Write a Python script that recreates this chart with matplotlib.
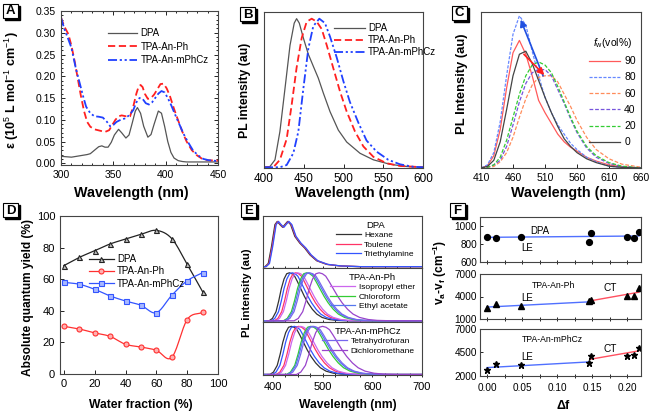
import numpy as np
import matplotlib
matplotlib.use('Agg')
import matplotlib.pyplot as plt
from matplotlib.patches import Rectangle
from matplotlib.ticker import MultipleLocator

plt.rcParams['font.family'] = ['Liberation Sans', 'DejaVu Sans']
plt.rcParams['mathtext.fontset'] = 'custom'
plt.rcParams['mathtext.rm'] = 'Liberation Sans'
plt.rcParams['mathtext.it'] = 'Liberation Sans:italic'
plt.rcParams['mathtext.bf'] = 'Liberation Sans:bold'

# ---------------- data ----------------
# Panel A: absorption
a_dpa_x = [300, 305, 310, 315, 320, 325, 328, 332, 336, 339, 342, 345, 348, 351, 355, 358, 362, 365,
           368, 371, 373, 376, 379, 383, 386, 389, 393, 396, 399, 402, 405, 408, 412, 416, 420, 430, 440, 450]
a_dpa_y = [0.016, 0.015, 0.014, 0.016, 0.018, 0.020, 0.022, 0.030, 0.038, 0.040, 0.037, 0.037, 0.048,
           0.065, 0.078, 0.070, 0.058, 0.065, 0.092, 0.120, 0.128, 0.115, 0.085, 0.060, 0.066, 0.090,
           0.120, 0.115, 0.085, 0.050, 0.025, 0.012, 0.006, 0.004, 0.003, 0.003, 0.003, 0.003]
a_ph_x = [300, 303, 307, 310, 313, 316, 319, 322, 325, 328, 332, 337, 342, 346, 349, 352, 355, 358, 362,
          366, 369, 372, 374, 376, 378, 380, 383, 386, 389, 392, 395, 398, 401, 404, 408, 412, 416, 420,
          425, 430, 435, 440, 450]
a_ph_y = [0.335, 0.315, 0.297, 0.270, 0.235, 0.195, 0.155, 0.120, 0.095, 0.084, 0.078, 0.075, 0.072,
          0.076, 0.088, 0.100, 0.108, 0.110, 0.108, 0.108, 0.130, 0.160, 0.175, 0.180, 0.175, 0.160,
          0.148, 0.150, 0.158, 0.170, 0.182, 0.183, 0.172, 0.155, 0.125, 0.098, 0.072, 0.050, 0.030,
          0.018, 0.010, 0.007, 0.006]
a_cz_x = [300, 303, 307, 310, 314, 318, 321, 324, 328, 332, 336, 340, 344, 347, 350, 353, 357, 361, 365,
          369, 372, 375, 378, 381, 384, 387, 390, 393, 396, 399, 402, 405, 409, 413, 417, 421, 426, 431,
          436, 441, 450]
a_cz_y = [0.335, 0.310, 0.285, 0.265, 0.220, 0.183, 0.155, 0.130, 0.115, 0.108, 0.107, 0.105, 0.095,
          0.085, 0.088, 0.095, 0.100, 0.103, 0.110, 0.122, 0.140, 0.150, 0.148, 0.138, 0.135, 0.140,
          0.150, 0.160, 0.166, 0.163, 0.150, 0.135, 0.112, 0.090, 0.068, 0.050, 0.030, 0.018, 0.010,
          0.007, 0.005]
series_names = ['DPA', 'TPA-An-Ph', 'TPA-An-mPhCz']

# Panel B: PL in solution
b_dpa_x = [400, 407.5, 413.8, 420, 426.4, 432.7, 438, 441, 444.4, 449.5, 455.8, 462, 468.3, 474.6, 483,
           493.5, 504, 520.8, 537.6, 558.5, 579.5, 600]
b_dpa_y = [0, 0.005, 0.05, 0.24, 0.53, 0.82, 0.97, 1.0, 0.97, 0.87, 0.76, 0.68, 0.60, 0.50, 0.375,
           0.25, 0.17, 0.094, 0.05, 0.02, 0.005, 0]
b_ph_x = [400, 411.7, 420, 428.5, 434.8, 441, 447.4, 453.7, 460, 466.3, 472.6, 479, 487, 495.6, 504,
          514.5, 525, 537.6, 554.3, 571, 600]
b_ph_y = [0, 0, 0.05, 0.19, 0.42, 0.67, 0.87, 0.98, 1.0, 0.98, 0.93, 0.82, 0.67, 0.51, 0.375, 0.24,
          0.14, 0.07, 0.027, 0.009, 0]
b_cz_x = [400, 420, 428.5, 436.9, 443.2, 449.5, 455.8, 462, 469.6, 476.7, 483, 491.4, 499.8, 508,
          518.7, 529, 541.7, 556.4, 571, 588, 600]
b_cz_y = [0, 0, 0.015, 0.095, 0.24, 0.53, 0.80, 0.95, 1.0, 0.97, 0.88, 0.74, 0.58, 0.44, 0.30, 0.18,
          0.105, 0.05, 0.02, 0.003, 0]

# Panel C: PL vs water fraction
c_fw = ['90', '80', '60', '40', '20', '0']
c_x = [410, 420, 430, 440, 450, 460, 470, 480, 490, 500, 510, 520, 530, 540, 550, 560, 575, 590, 610,
       630, 660]
c_y90 = [0, 0.015, 0.08, 0.25, 0.52, 0.75, 0.83, 0.74, 0.60, 0.44, 0.36, 0.29, 0.22, 0.17, 0.135,
         0.11, 0.07, 0.045, 0.02, 0.008, 0]
c_y80 = [0, 0.02, 0.10, 0.30, 0.60, 0.87, 0.99, 0.93, 0.76, 0.60, 0.46, 0.36, 0.28, 0.22, 0.16, 0.12,
         0.07, 0.04, 0.012, 0.004, 0]
c_y60 = [0, 0.003, 0.01, 0.04, 0.10, 0.20, 0.33, 0.45, 0.54, 0.59, 0.60, 0.60, 0.56, 0.48, 0.40, 0.31,
         0.20, 0.12, 0.06, 0.025, 0.005]
c_y40 = [0, 0.005, 0.02, 0.05, 0.14, 0.28, 0.43, 0.55, 0.62, 0.64, 0.64, 0.60, 0.51, 0.42, 0.32, 0.23,
         0.13, 0.07, 0.03, 0.01, 0]
c_y20 = [0, 0.005, 0.02, 0.07, 0.18, 0.33, 0.48, 0.60, 0.67, 0.69, 0.67, 0.62, 0.53, 0.43, 0.33, 0.24,
         0.14, 0.08, 0.035, 0.012, 0]
c_y0 = [0, 0.01, 0.05, 0.17, 0.38, 0.60, 0.74, 0.76, 0.68, 0.57, 0.46, 0.36, 0.27, 0.19, 0.14, 0.10,
        0.06, 0.035, 0.012, 0.004, 0]
c_xticks = [410, 460, 510, 560, 610, 660]
c_arrow_blue = [(507, 0.60), (472, 0.965)]
c_arrow_red = [(477, 0.74), (509, 0.605)]

# Panel D: quantum yield vs water fraction
d_x = [0, 10, 20, 30, 40, 50, 60, 70, 80, 90]
d_dpa = [68.6, 73.8, 78.0, 82.3, 85.4, 88.4, 90.9, 85.7, 69.4, 52.1]
d_ph = [30.2, 28.5, 26.0, 23.8, 18.8, 17.1, 15.0, 10.5, 34.4, 39.0]
d_cz = [58.0, 56.8, 53.6, 49.4, 46.2, 43.5, 38.8, 49.8, 59.0, 64.1]

# Panel E: solvatochromism
e_dpa_x = [380, 384, 390.6, 397, 404, 408.7, 414, 419.5, 424, 429.5, 435.6, 444, 454, 464, 474.5, 488,
           508, 535, 575, 700]
e_dpa_y = [0, 0, 0.07, 0.44, 0.93, 1.0, 0.93, 0.87, 0.93, 1.0, 0.93, 0.67, 0.52, 0.41, 0.26, 0.13,
           0.05, 0.015, 0, 0]
e_dpa_solv = ['Hexane', 'Toulene', 'Triethylamine']
e_dpa_shift = [0, 1.5, 2.5]
e_dpa_colors = ['#333333', '#ff3366', '#3355ff']
e_prof_dx = [-100, -48, -40, -31.5, -25, -19, -12.6, -6.3, 0, 6.3, 12.6, 19, 27, 35.6, 44, 54.5, 65,
             77.6, 94, 111, 140, 300]
e_prof_y = [0, 0, 0.05, 0.19, 0.42, 0.67, 0.87, 0.98, 1.0, 0.98, 0.93, 0.82, 0.67, 0.51, 0.375, 0.24,
            0.14, 0.07, 0.027, 0.009, 0, 0]
e_solvents = ['Hexane', 'Toulene', 'Triethylamine', 'Isopropyl ether', 'Chloroform', 'Ethyl acetate',
              'Tetrahydrofuran', 'Dichloromethane']
e_colors = ['#333333', '#ff3366', '#3355ff', '#cc66ee', '#33cc33', '#5577ee', '#7766ee', '#9944cc']
e_ph_peak = [433, 446, 439, 450, 468, 471, 474, 493]
e_ph_width = [0.85, 0.90, 0.88, 0.92, 0.98, 1.0, 1.0, 1.05]
e_cz_peak = [437, 452, 443, 456, 476, 479, 482, 500]
e_cz_width = [0.90, 0.95, 0.92, 0.97, 1.02, 1.05, 1.05, 1.10]

# Panel F: Lippert-Mataga
f_df = [0.0, 0.013, 0.048, 0.145, 0.148, 0.200, 0.210, 0.217]
f_dpa = [881, 870, 881, 819, 926, 881, 870, 930]
f_ph = [2456, 3030, 2765, 3340, 3560, 4130, 4130, 5100]
f_cz = [2643, 3321, 3143, 3393, 4143, 4143, 4214, 5000]
f_dpa_fit = ([0.0, 0.217], [874, 889])
f_ph_le = ([0.0, 0.148], [2590, 3295])
f_ph_ct = ([0.148, 0.217], [3427, 4574])
f_cz_le = ([0.0, 0.146], [2893, 3500])
f_cz_ct = ([0.148, 0.217], [3786, 4680])

# ---------------- figure ----------------
W, H = 651, 413
fig = plt.figure(figsize=(W / 100, H / 100), dpi=100)


def add_ax(x0, y0, x1, y1):
    ax = fig.add_axes([x0 / W, 1 - y1 / H, (x1 - x0) / W, (y1 - y0) / H])
    for s in ax.spines.values():
        s.set_color('#444444')
        s.set_linewidth(0.8)
    return ax


def ftext(x, y, s, **kw):
    fig.text(x / W, 1 - y / H, s, **kw)


def panel_label(x, y, s, w=15, h=14):
    fig.add_artist(Rectangle(((x + 2) / W, 1 - (y + h + 2) / H), w / W, h / H,
                             transform=fig.transFigure, facecolor='black', edgecolor='black'))
    fig.add_artist(Rectangle((x / W, 1 - (y + h) / H), w / W, h / H,
                             transform=fig.transFigure, facecolor='white', edgecolor='black', lw=0.8))
    ftext(x + w / 2, y + h / 2 + 0.5, s, ha='center', va='center', fontsize=9.5, fontweight='bold')


def smooth(x, y, n=16):
    x = np.asarray(x, float)
    y = np.asarray(y, float)
    xp = np.concatenate([[2 * x[0] - x[1]], x, [2 * x[-1] - x[-2]]])
    yp = np.concatenate([[2 * y[0] - y[1]], y, [2 * y[-1] - y[-2]]])
    t = np.linspace(0, 1, n, endpoint=False)
    ox, oy = [], []
    for i in range(1, len(xp) - 2):
        for arr, out in ((xp, ox), (yp, oy)):
            p0, p1, p2, p3 = arr[i - 1], arr[i], arr[i + 1], arr[i + 2]
            out.extend(0.5 * ((2 * p1) + (-p0 + p2) * t + (2 * p0 - 5 * p1 + 4 * p2 - p3) * t ** 2
                              + (-p0 + 3 * p1 - 3 * p2 + p3) * t ** 3))
    ox.append(x[-1])
    oy.append(y[-1])
    return np.array(ox), np.array(oy)


col_dpa = '#555555'
col_ph = '#ff2020'
col_cz = '#2040ff'
dashdotdot = (0, (5, 1.5, 1.2, 1.5, 1.2, 1.5))

# ---- A ----
axA = add_ax(61, 11, 218, 165)
axA.plot(a_dpa_x, a_dpa_y, color=col_dpa, lw=0.9, label=series_names[0])
axA.plot(a_ph_x, a_ph_y, color=col_ph, lw=1.3, ls=(0, (4, 2)), label=series_names[1])
axA.plot(a_cz_x, a_cz_y, color=col_cz, lw=1.3, ls=dashdotdot, label=series_names[2])
axA.set_xlim(300, 450)
axA.set_ylim(-0.004, 0.35)
axA.xaxis.set_major_locator(MultipleLocator(50))
axA.yaxis.set_major_locator(MultipleLocator(0.05))
axA.yaxis.set_major_formatter(matplotlib.ticker.FormatStrFormatter('%.2f'))
axA.xaxis.set_minor_locator(MultipleLocator(10))
axA.yaxis.set_minor_locator(MultipleLocator(0.01))
axA.tick_params(which='both', direction='in', labelsize=7.5, top=True, right=True, width=0.6)
axA.tick_params(which='major', length=3)
axA.tick_params(which='minor', length=1.5)
axA.legend(loc='upper left', bbox_to_anchor=(0.27, 0.92), frameon=False, fontsize=7,
           handlelength=3.0, handletextpad=0.3, labelspacing=0.35, borderpad=0)
ftext(131, 193, 'Wavelength (nm)', ha='center', va='center', fontsize=10.3, fontweight='bold')
ftext(12, 90, 'ε (10$^5$ L mol$^{-1}$ cm$^{-1}$)', ha='center', va='center', fontsize=9,
      fontweight='bold', rotation=90)
panel_label(3, 4, 'A')

# ---- B ----
axB = add_ax(264, 12, 423, 168)
axB.plot(b_dpa_x, b_dpa_y, color=col_dpa, lw=0.9, label=series_names[0])
axB.plot(b_ph_x, b_ph_y, color=col_ph, lw=1.3, ls=(0, (4, 2)), label=series_names[1])
axB.plot(b_cz_x, b_cz_y, color=col_cz, lw=1.3, ls=dashdotdot, label=series_names[2])
axB.set_xlim(400, 600)
axB.set_ylim(-0.005, 1.045)
axB.xaxis.set_major_locator(MultipleLocator(50))
axB.set_yticks([])
axB.tick_params(axis='x', direction='in', labelsize=8.5, length=3, width=0.6)
axB.legend(loc='upper left', bbox_to_anchor=(0.41, 0.96), frameon=False, fontsize=7,
           handlelength=3.2, handletextpad=0.3, labelspacing=0.2, borderpad=0)
ftext(352, 193, 'Wavelength (nm)', ha='center', va='center', fontsize=10.3, fontweight='bold')
ftext(245, 90, 'PL intensity (au)', ha='center', va='center', fontsize=8.8, fontweight='bold',
      rotation=90)
panel_label(240, 7, 'B')

# ---- C ----
axC = add_ax(481, 12, 641, 168)
c_styles = [('#ff5a5a', '-'), ('#6688ff', (0, (2.5, 1.2))), ('#ff8c5a', (0, (3, 1.5))),
            ('#7755dd', (0, (3, 1.5))), ('#33cc33', (0, (3, 1.5))), ('#444444', '-')]
for lab, yy, (cc, ls) in zip(c_fw, [c_y90, c_y80, c_y60, c_y40, c_y20, c_y0], c_styles):
    axC.plot(c_x, yy, color=cc, ls=ls, lw=0.9, label=lab)
axC.annotate('', xy=c_arrow_blue[1], xytext=c_arrow_blue[0],
             arrowprops=dict(arrowstyle='-|>', color='#2050e0', lw=1.2, mutation_scale=10,
                             shrinkA=0, shrinkB=0))
axC.annotate('', xy=c_arrow_red[1], xytext=c_arrow_red[0],
             arrowprops=dict(arrowstyle='-|>', color='#ff2020', lw=1.2, mutation_scale=10,
                             shrinkA=0, shrinkB=0))
axC.set_xlim(410, 660)
axC.set_ylim(0, 1.015)
axC.set_xticks(c_xticks)
axC.set_yticks([])
axC.tick_params(axis='x', direction='in', labelsize=7.5, length=3, width=0.6)
legC = axC.legend(loc='upper right', bbox_to_anchor=(1.0, 0.88), frameon=False, fontsize=7.5,
                  handlelength=3.0, handletextpad=0.4, labelspacing=0.6, borderpad=0,
                  title='$f_{\\rm w}$(vol%)', title_fontsize=7.5)
ftext(568, 193, 'Wavelength (nm)', ha='center', va='center', fontsize=10.3, fontweight='bold')
ftext(462, 84, 'PL Intensity (au)', ha='center', va='center', fontsize=9.4, fontweight='bold',
      rotation=90)
panel_label(452, 6, 'C')

# ---- D ----
axD = add_ax(60, 216, 218, 374)
for yy, cc, mk, mfc, lab in [(d_dpa, '#222222', '^', '#bbbbbb', series_names[0]),
                             (d_ph, '#ff3030', 'o', '#ffb0b0', series_names[1]),
                             (d_cz, '#3355ff', 's', '#a8b8ff', series_names[2])]:
    sx, sy = smooth(d_x, yy)
    axD.plot(sx, sy, color=cc, lw=0.9)
    axD.plot(d_x, yy, ls='none', marker=mk, ms=3.6, mec=cc, mfc=mfc, mew=0.8)
    axD.plot([], [], color=cc, lw=0.9, marker=mk, ms=3.6, mec=cc, mfc=mfc, mew=0.8, label=lab)
axD.set_xlim(-2.5, 100)
axD.set_ylim(0, 100)
axD.xaxis.set_major_locator(MultipleLocator(20))
axD.yaxis.set_major_locator(MultipleLocator(20))
axD.tick_params(direction='in', labelsize=8, length=3, width=0.6)
axD.legend(loc='upper left', bbox_to_anchor=(0.15, 0.79), frameon=False, fontsize=7,
           handlelength=2.6, handletextpad=0.3, labelspacing=0.25, borderpad=0)
ftext(141, 405, 'Water fraction (%)', ha='center', va='center', fontsize=8.7, fontweight='bold')
ftext(28, 297, 'Absolute quantum yield (%)', ha='center', va='center', fontsize=8.6,
      fontweight='bold', rotation=90)
panel_label(3, 203, 'D')

# ---- E ----
axE1 = add_ax(263, 216, 422, 268)
axE2 = add_ax(263, 268, 422, 322)
axE3 = add_ax(263, 322, 422, 375)
for s, c, lab in zip(e_dpa_shift, e_dpa_colors, e_dpa_solv):
    axE1.plot(np.asarray(e_dpa_x) + s, e_dpa_y, color=c, lw=0.9, label=lab)
prof_dx = np.asarray(e_prof_dx)
for i in range(len(e_solvents)):
    axE2.plot(e_ph_peak[i] + e_ph_width[i] * prof_dx, e_prof_y, color=e_colors[i], lw=0.9,
              label=e_solvents[i])
    axE3.plot(e_cz_peak[i] + e_cz_width[i] * prof_dx, e_prof_y, color=e_colors[i], lw=0.9,
              label=e_solvents[i])
for ax, yl in [(axE1, (-0.03, 1.12)), (axE2, (-0.025, 1.1)), (axE3, (-0.01, 1.09))]:
    ax.set_xlim(380, 700)
    ax.set_ylim(*yl)
    ax.set_yticks([])
    ax.xaxis.set_major_locator(MultipleLocator(100))
    ax.xaxis.set_minor_locator(MultipleLocator(25))
    ax.tick_params(axis='x', which='both', direction='inout', length=3, width=0.6, labelsize=8)
axE1.tick_params(axis='x', labelbottom=False)
axE2.tick_params(axis='x', labelbottom=False)
hE1, lE1 = axE1.get_legend_handles_labels()
axE1.legend(hE1, lE1, loc='upper right', bbox_to_anchor=(0.98, 0.99), frameon=False, fontsize=6,
            title='DPA', title_fontsize=6.8, handlelength=3.0, handletextpad=0.4, labelspacing=0.2,
            borderpad=0)
hE2, lE2 = axE2.get_legend_handles_labels()
axE2.legend(hE2[3:6], lE2[3:6], loc='upper right', bbox_to_anchor=(0.98, 0.99), frameon=False,
            fontsize=6, title='TPA-An-Ph', title_fontsize=6.8, handlelength=3.0, handletextpad=0.4,
            labelspacing=0.2, borderpad=0)
hE3, lE3 = axE3.get_legend_handles_labels()
axE3.legend(hE3[6:8], lE3[6:8], loc='upper right', bbox_to_anchor=(0.98, 0.99), frameon=False,
            fontsize=6, title='TPA-An-mPhCz', title_fontsize=6.8, handlelength=3.0,
            handletextpad=0.4, labelspacing=0.2, borderpad=0)
ftext(348, 405, 'Wavelength (nm)', ha='center', va='center', fontsize=8.7, fontweight='bold')
ftext(247, 293, 'PL intensity (au)', ha='center', va='center', fontsize=8.2, fontweight='bold',
      rotation=90)
panel_label(241, 203, 'E')

# ---- F ----
axF1 = add_ax(480, 217, 641, 262)
axF2 = add_ax(480, 274, 641, 319)
axF3 = add_ax(480, 329, 641, 376)
col_le = '#5070ff'
col_ct = '#ff5060'
axF1.plot(*f_dpa_fit, color=col_le, lw=1.0)
axF1.plot(f_df, f_dpa, 'o', color='black', ms=4.2)
axF2.plot(*f_ph_le, color=col_le, lw=1.0)
axF2.plot(*f_ph_ct, color=col_ct, lw=1.0)
axF2.plot(f_df, f_ph, '^', color='black', ms=4.2)
axF3.plot(*f_cz_le, color=col_le, lw=1.0)
axF3.plot(*f_cz_ct, color=col_ct, lw=1.0)
axF3.plot(f_df, f_cz, '*', color='black', ms=5)
for ax, yl, yt in [(axF1, (600, 1100), [600, 800, 1000]), (axF2, (1000, 7000), [1000, 4000, 7000]),
                   (axF3, (2000, 7000), [2000, 4500, 7000])]:
    ax.set_xlim(-0.01, 0.22)
    ax.set_ylim(*yl)
    ax.set_yticks(yt)
    ax.xaxis.set_major_locator(MultipleLocator(0.05))
    ax.xaxis.set_minor_locator(MultipleLocator(0.025))
    ax.tick_params(axis='x', which='both', direction='inout', length=3.5, width=0.6)
    ax.tick_params(axis='y', direction='in', length=2.5, width=0.6, labelsize=7.2, pad=2)
axF1.tick_params(axis='x', labelbottom=False)
axF2.tick_params(axis='x', labelbottom=False)
axF3.xaxis.set_major_formatter(matplotlib.ticker.FormatStrFormatter('%.2f'))
axF3.tick_params(axis='x', labelsize=7.2)
ftext(540, 231, 'DPA', ha='center', va='center', fontsize=7)
ftext(527, 248, 'LE', ha='center', va='center', fontsize=7)
ftext(553, 285, 'TPA-An-Ph', ha='center', va='center', fontsize=6.2)
ftext(527, 298, 'LE', ha='center', va='center', fontsize=7)
ftext(610, 288, 'CT', ha='center', va='center', fontsize=7.2)
ftext(552, 339, 'TPA-An-mPhCz', ha='center', va='center', fontsize=6.2)
ftext(527, 357, 'LE', ha='center', va='center', fontsize=7)
ftext(610, 349, 'CT', ha='center', va='center', fontsize=7.2)
ftext(563, 406, 'Δf', ha='center', va='center', fontsize=9, fontweight='bold')
ftext(440, 272, 'v$_\\mathbf{a}$-v$_\\mathbf{f}$ (cm$^\\mathbf{-1}$)', ha='center', va='center',
      fontsize=8.6, fontweight='bold', rotation=90)
panel_label(450, 203, 'F')

fig.savefig('out.png', dpi=100)
